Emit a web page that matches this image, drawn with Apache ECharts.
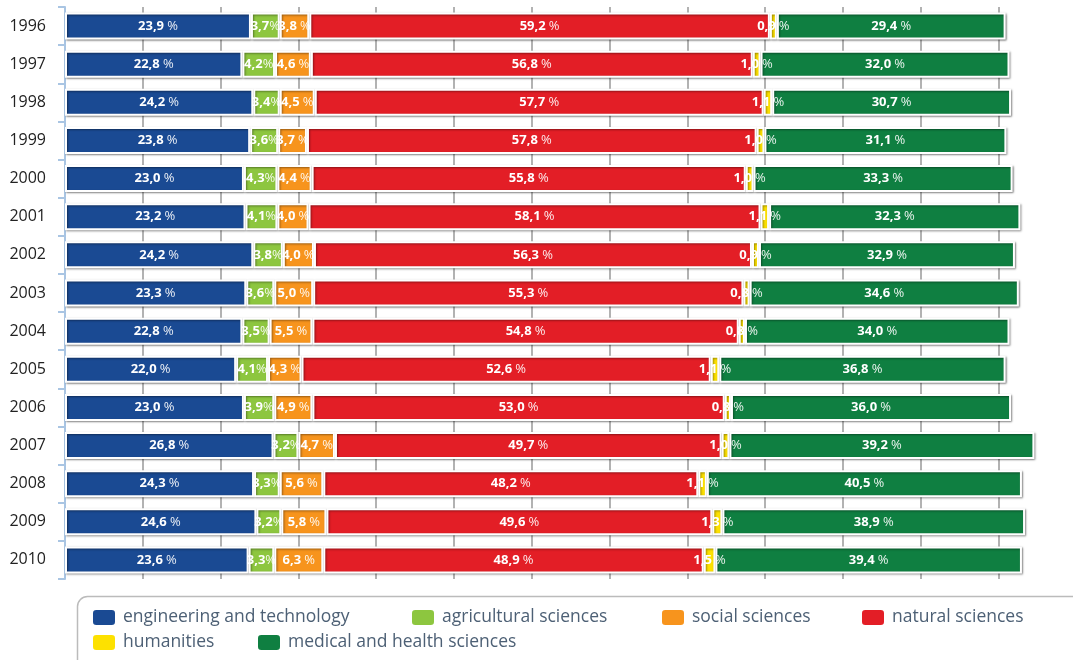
<!DOCTYPE html>
<html>
<head>
<meta charset="utf-8">
<script src="https://cdn.jsdelivr.net/npm/echarts@6/dist/echarts.min.js"></script>
<style>
  html, body { margin: 0; padding: 0; background: #fff; }
  #chart { width: 1073px; height: 660px; }
</style>
</head>
<body>
<div id="chart"></div>
<script>
const years = ["1996", "1997", "1998", "1999", "2000", "2001", "2002", "2003", "2004", "2005", "2006", "2007", "2008", "2009", "2010"];
const engineering = [23.9, 22.8, 24.2, 23.8, 23.0, 23.2, 24.2, 23.3, 22.8, 22.0, 23.0, 26.8, 24.3, 24.6, 23.6];
const agricultural = [3.7, 4.2, 3.4, 3.6, 4.3, 4.1, 3.8, 3.6, 3.5, 4.1, 3.9, 3.2, 3.3, 3.2, 3.3];
const social = [3.8, 4.6, 4.5, 3.7, 4.4, 4.0, 4.0, 5.0, 5.5, 4.3, 4.9, 4.7, 5.6, 5.8, 6.3];
const natural = [59.2, 56.8, 57.7, 57.8, 55.8, 58.1, 56.3, 55.3, 54.8, 52.6, 53.0, 49.7, 48.2, 49.6, 48.9];
const humanities = [0.9, 1.0, 1.1, 1.0, 1.0, 1.1, 0.9, 0.8, 0.8, 1.1, 0.8, 1.0, 1.1, 1.3, 1.5];
const medical = [29.4, 32.0, 30.7, 31.1, 33.3, 32.3, 32.9, 34.6, 34.0, 36.8, 36.0, 39.2, 40.5, 38.9, 39.4];

const names = ["engineering and technology", "agricultural sciences", "social sciences", "natural sciences", "humanities", "medical and health sciences"];
const colors = ["#1a4a93", "#8dc63f", "#f7941d", "#e31e26", "#fde100", "#0f7f41"];
const allData = [engineering, agricultural, social, natural, humanities, medical];

function makeSeries(i) {
  return {
    name: names[i],
    type: "bar",
    stack: "total",
    barWidth: 27,
    data: allData[i],
    itemStyle: {
      color: colors[i],
      borderColor: "#fff",
      borderWidth: 2,
      shadowColor: "rgba(0,0,0,0.4)",
      shadowBlur: 2,
      shadowOffsetX: 1,
      shadowOffsetY: 1
    },
    label: {
      show: true,
      position: "inside",
      fontFamily: "Open Sans",
      formatter: function (p) {
        let v = p.value.toFixed(1).replace(".", ",");
        return "{v|" + v + "}" + (i === 1 ? "" : " ") + "{p|%}";
      },
      rich: {
        v: { color: "#fff", fontWeight: "bold", fontSize: 13, fontFamily: "Open Sans" },
        p: { color: "rgba(255,255,255,0.9)", fontSize: 13, fontFamily: "Open Sans" }
      }
    }
  };
}

// legend positions: [left, top]
const legendPos = [[91, 608], [410, 608], [660, 608], [860, 608], [91, 633], [256, 633]];

const chart = echarts.init(document.getElementById("chart"));
chart.setOption({
  animation: false,
  grid: { left: 65, top: 7, width: 972.5, height: 572 },
  xAxis: {
    type: "value",
    min: 0,
    max: 125,
    interval: 10,
    axisLabel: { show: false },
    axisLine: { show: false },
    axisTick: { show: false },
    splitLine: { show: true, showMinLine: false, showMaxLine: false, lineStyle: { color: "#999", width: 1.5 } }
  },
  yAxis: {
    type: "category",
    inverse: true,
    data: years,
    axisLine: { show: true, lineStyle: { color: "#a9c5e3", width: 2 } },
    axisTick: { show: true, length: 7, lineStyle: { color: "#a9c5e3", width: 2 } },
    axisLabel: { color: "#222", fontSize: 16, fontFamily: "Open Sans", margin: 19 }
  },
  legend: legendPos.map(function (pos, i) {
    return {
      left: pos[0],
      top: pos[1],
      data: [names[i]],
      selectedMode: false,
      icon: "roundRect",
      itemWidth: 24,
      itemHeight: 17,
      padding: 0,
      textStyle: { color: "#4d6075", fontSize: 17.5, fontFamily: "Open Sans", padding: [0, 0, 0, 2] }
    };
  }),
  graphic: [{
    type: "rect",
    left: 75,
    top: 594,
    shape: { width: 1010, height: 80, r: 10 },
    style: { fill: "none", stroke: "#bbb", lineWidth: 1.5 }
  }],
  series: names.map(function (n, i) { return makeSeries(i); })
});
</script>
</body>
</html>
